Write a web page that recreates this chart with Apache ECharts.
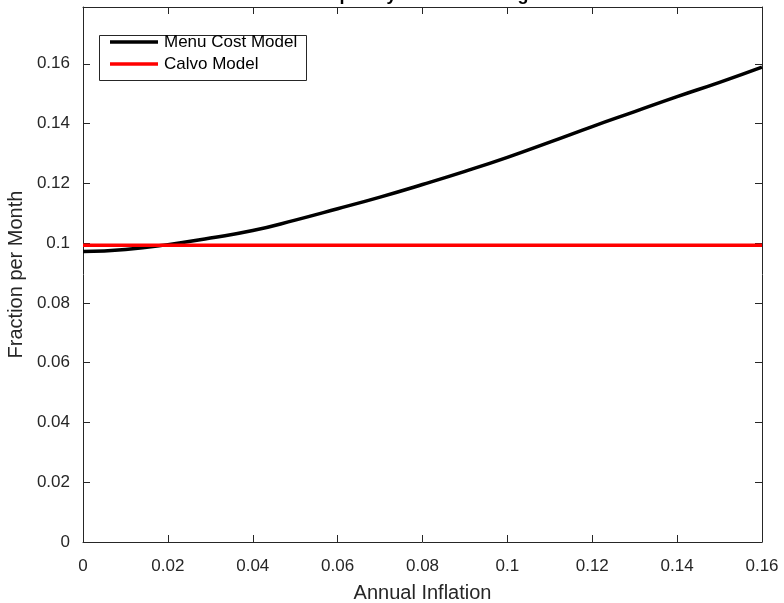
<!DOCTYPE html>
<html>
<head>
<meta charset="utf-8">
<script src="https://cdn.jsdelivr.net/npm/echarts@6/dist/echarts.min.js"></script>
<style>html,body{margin:0;padding:0;background:#fff;}#c{width:784px;height:603px;}</style>
</head>
<body>
<div id="c"></div>
<script>
var inflation = [0, 0.01, 0.02, 0.03, 0.04, 0.05, 0.06, 0.07, 0.08, 0.09, 0.10, 0.11, 0.12, 0.13, 0.14, 0.15, 0.16];
var menuCost = [0.0972, 0.0979, 0.0995, 0.1017, 0.1042, 0.1077, 0.1115, 0.1154, 0.1196, 0.1240, 0.1287, 0.1338, 0.1390, 0.1440, 0.1490, 0.1538, 0.1589];
var calvo = [0.0993, 0.0993, 0.0993, 0.0993, 0.0993, 0.0993, 0.0993, 0.0993, 0.0993, 0.0993, 0.0993, 0.0993, 0.0993, 0.0993, 0.0993, 0.0993, 0.0993];
var seriesNames = ['Menu Cost Model', 'Calvo Model'];
var titleText = 'Frequency of Price Changes';
var xName = 'Annual Inflation';
var yName = 'Fraction per Month';

function pairs(xs, ys) { return xs.map(function (x, i) { return [x, ys[i]]; }); }

var axisCol = '#262626';
var font = 'Liberation Sans, Arial, sans-serif';
var chart = echarts.init(document.getElementById('c'), null, {renderer: 'canvas'});
var tickOpts = {show: true, inside: true, length: 7, lineStyle: {color: axisCol, width: 1}};
var hideMax = function (v) { var k = Math.round(v / 0.02); return Math.abs(v - k * 0.02) < 1e-9 ? String(+v.toFixed(2)) : ''; };
chart.setOption({
  animation: false,
  title: {text: titleText, left: 422, textAlign: 'center', top: -19,
    textStyle: {fontFamily: font, fontSize: 18, fontWeight: 'bold', color: '#000'}},
  grid: {left: 83, right: 22, top: 7, bottom: 61, containLabel: false, outerBoundsMode: 'none'},
  legend: {show: false},
  xAxis: [{
    type: 'value', min: 0, max: 0.16, interval: 0.02, position: 'bottom',
    name: xName, nameLocation: 'middle', nameGap: 41,
    nameTextStyle: {fontFamily: font, fontSize: 20, color: axisCol},
    axisLine: {show: true, onZero: false, lineStyle: {color: axisCol, width: 1}},
    axisTick: tickOpts, splitLine: {show: false},
    axisLabel: {fontFamily: font, fontSize: 17, color: axisCol, margin: 16, formatter: function (v) { return String(+v.toFixed(2)); }}
  }, {
    type: 'value', min: 0, max: 0.16, interval: 0.02, position: 'top',
    axisLine: {show: true, onZero: false, lineStyle: {color: axisCol, width: 1}},
    axisTick: tickOpts, splitLine: {show: false}, axisLabel: {show: false}
  }],
  yAxis: [{
    type: 'value', min: 0, max: 0.179, interval: 0.02, position: 'left',
    name: yName, nameLocation: 'middle', nameGap: 52, nameRotate: 90,
    nameTextStyle: {fontFamily: font, fontSize: 20, color: axisCol},
    axisLine: {show: true, onZero: false, lineStyle: {color: axisCol, width: 1}},
    axisTick: tickOpts, splitLine: {show: false},
    axisLabel: {fontFamily: font, fontSize: 17, color: axisCol, margin: 13, formatter: hideMax}
  }, {
    type: 'value', min: 0, max: 0.179, interval: 0.02, position: 'right',
    axisLine: {show: true, onZero: false, lineStyle: {color: axisCol, width: 1}},
    axisTick: tickOpts, splitLine: {show: false}, axisLabel: {show: false}
  }],
  series: [{
    name: seriesNames[0], type: 'line', data: pairs(inflation, menuCost), smooth: true,
    showSymbol: false, lineStyle: {color: '#000', width: 3.5}, z: 2
  }, {
    name: seriesNames[1], type: 'line', data: pairs(inflation, calvo),
    showSymbol: false, lineStyle: {color: '#ff0000', width: 3.5}, z: 3
  }],
  graphic: [{
    type: 'rect', shape: {x: 99.5, y: 35.5, width: 207, height: 45},
    style: {fill: '#fff', stroke: axisCol, lineWidth: 1}, z: 10
  }, {
    type: 'line', shape: {x1: 110, y1: 42, x2: 158, y2: 42}, style: {stroke: '#000', lineWidth: 3.5}, z: 11
  }, {
    type: 'text', x: 164, y: 42, style: {text: seriesNames[0], fill: '#000', font: '17px ' + font, textVerticalAlign: 'middle'}, z: 11
  }, {
    type: 'line', shape: {x1: 110, y1: 64, x2: 158, y2: 64}, style: {stroke: '#ff0000', lineWidth: 3.5}, z: 11
  }, {
    type: 'text', x: 164, y: 64, style: {text: seriesNames[1], fill: '#000', font: '17px ' + font, textVerticalAlign: 'middle'}, z: 11
  }]
});
</script>
</body>
</html>
